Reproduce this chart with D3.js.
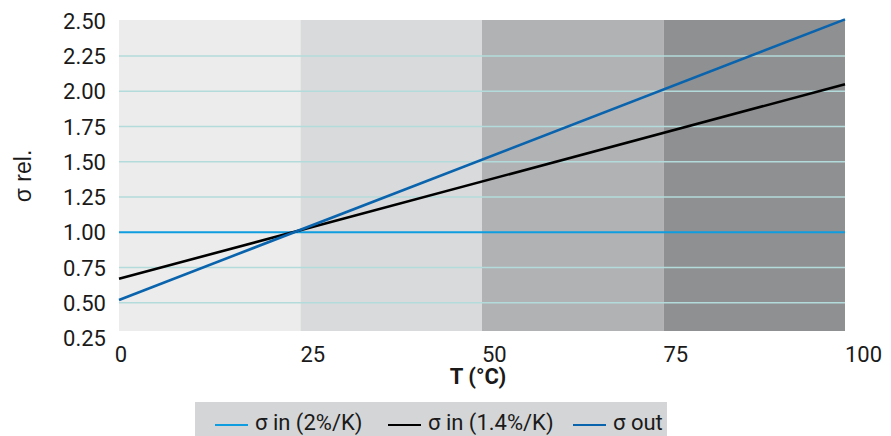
<!DOCTYPE html>
<html>
<head>
<meta charset="utf-8">
<script src="https://cdn.jsdelivr.net/npm/d3@7/dist/d3.min.js"></script>
<style>
  html, body { margin: 0; padding: 0; background: #ffffff; }
  svg { display: block; }
</style>
</head>
<body>
<svg id="chart" width="891" height="436"></svg>
<script>
// ---- data ----
const xTicks = [0, 25, 50, 75, 100];
const yTicks = [0.25, 0.50, 0.75, 1.00, 1.25, 1.50, 1.75, 2.00, 2.25, 2.50];
const gridValues = [0.50, 0.75, 1.25, 1.50, 1.75, 2.00, 2.25];
const bandStarts = [0, 25, 50, 75];
const bandEnds = [25, 50, 75, 100];
const bandColors = ["#ebeceb", "#d9dadb", "#b1b2b4", "#8f9091"];
const temps = [0, 100];
const sigmaIn2 = [1.00, 1.00];
const sigmaIn14 = [0.67, 2.05];
const sigmaOut = [0.52, 2.51];
const seriesNames = ["σ in (2%/K)", "σ in (1.4%/K)", "σ out"];
const seriesColors = ["#0f9ddf", "#000000", "#0a63ad"];
const xTitle = "T (°C)";
const yTitle = "σ rel.";

// ---- layout ----
const svg = d3.select("#chart");
const plotLeft = 119, plotRight = 845, plotTop = 20, plotBottom = 331;
const x = d3.scaleLinear().domain([0, 100]).range([plotLeft, plotRight]);
const y = d3.scaleLinear().domain([0.25, 2.50]).range([338, 20.8]);

// bands
svg.append("g").selectAll("rect").data(bandStarts).join("rect")
  .attr("x", (d) => x(d))
  .attr("width", (d, i) => x(bandEnds[i]) - x(d))
  .attr("y", plotTop)
  .attr("height", plotBottom - plotTop)
  .attr("fill", (d, i) => bandColors[i]);

// grid
svg.append("g").selectAll("line").data(gridValues).join("line")
  .attr("x1", plotLeft).attr("x2", plotRight)
  .attr("y1", (d) => y(d)).attr("y2", (d) => y(d))
  .attr("stroke", "#b3dbdb").attr("stroke-width", 1.5);

// lines
const series = [sigmaIn2, sigmaIn14, sigmaOut];
const widths = [2, 2.6, 2.6];
const lineGen = d3.line().x((d) => x(d[0])).y((d) => y(d[1]));
series.forEach((s, i) => {
  svg.append("path")
    .datum(temps.map((t, j) => [t, s[j]]))
    .attr("d", lineGen)
    .attr("fill", "none")
    .attr("stroke", seriesColors[i])
    .attr("stroke-width", widths[i]);
});

// y axis labels
svg.append("g").selectAll("text").data(yTicks).join("text")
  .attr("x", 106)
  .attr("y", (d) => y(d) + 8)
  .attr("text-anchor", "end")
  .attr("font-family", "Roboto")
  .attr("font-size", 22)
  .attr("fill", "#1a1a1a")
  .text((d) => d3.format(".2f")(d));

// x axis labels
svg.append("g").selectAll("text").data(xTicks).join("text")
  .attr("x", (d, i) => i === 0 ? x(d) + 2 : x(d))
  .attr("y", 362)
  .attr("text-anchor", (d, i) => i === 0 ? "middle" : "start")
  .attr("font-family", "Roboto")
  .attr("font-size", 22)
  .attr("fill", "#1a1a1a")
  .text((d) => d);

// axis titles
svg.append("text")
  .attr("x", (plotLeft + plotRight) / 2 - 4)
  .attr("y", 384)
  .attr("text-anchor", "middle")
  .attr("font-family", "Roboto")
  .attr("font-weight", "bold")
  .attr("font-size", 22)
  .attr("fill", "#1a1a1a")
  .text(xTitle);

svg.append("text")
  .attr("transform", "translate(31,176) rotate(-90)")
  .attr("text-anchor", "middle")
  .attr("font-family", "Liberation Sans, Arial, sans-serif")
  .attr("font-size", 23)
  .attr("fill", "#1a1a1a")
  .text(yTitle);

// legend
const lg = svg.append("g");
lg.append("rect").attr("x", 195).attr("y", 402).attr("width", 472).attr("height", 40)
  .attr("fill", "#d4d5d6");
const legendX = [215, 388, 573];
seriesNames.forEach((name, i) => {
  lg.append("line")
    .attr("x1", legendX[i]).attr("x2", legendX[i] + 33)
    .attr("y1", 425).attr("y2", 425)
    .attr("stroke", seriesColors[i]).attr("stroke-width", 1.8);
  lg.append("text")
    .attr("x", legendX[i] + 40)
    .attr("y", 430)
    .attr("font-family", "Roboto")
    .attr("font-size", 22)
    .attr("fill", "#1a1a1a")
    .text(name);
});
</script>
</body>
</html>
